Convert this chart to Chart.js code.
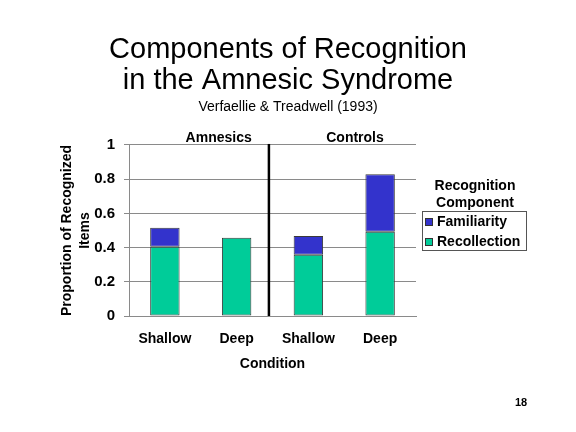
<!DOCTYPE html>
<html>
<head>
<meta charset="utf-8">
<title>Components of Recognition</title>
<script src="https://cdn.jsdelivr.net/npm/chart.js@4/dist/chart.umd.min.js"></script>
<style>
  html, body { margin: 0; padding: 0; background: #fff; }
  #wrap { width: 576px; height: 432px; }
</style>
</head>
<body>
<div id="wrap"><canvas id="chart" width="576" height="432"></canvas></div>
<script>
// values
const categories = ['Shallow', 'Deep', 'Shallow', 'Deep']
const groups = ['Amnesics', 'Controls']
const recollection = [0.405, 0.458, 0.358, 0.493]
const familiarity = [0.111, 0, 0.11, 0.336]
const yTicks = [0, 0.2, 0.4, 0.6, 0.8, 1]

const FONT = '"Liberation Sans", Arial, Helvetica, sans-serif'
const GREEN = '#00cc99'
const BLUE = '#3333cc'
const GRID = '#8a8a8a'

// group labels, divider, legend box and slide number
const slideExtras = {
    id: 'slideExtras',
    afterDatasetsDraw(chart) {
        const {ctx, chartArea, scales: {x}} = chart
        ctx.save()
        // divider between the two groups
        const divX = x.getPixelForValue(1.45)
        ctx.strokeStyle = '#000'
        ctx.lineWidth = 2.5
        ctx.beginPath()
        ctx.moveTo(divX, chartArea.top - 1)
        ctx.lineTo(divX, chartArea.bottom)
        ctx.stroke()

        ctx.fillStyle = '#000'
        ctx.font = 'bold 14px ' + FONT
        ctx.textAlign = 'center'
        ctx.textBaseline = 'middle'
        ctx.fillText(groups[0], x.getPixelForValue(0.75), chartArea.top - 7)
        ctx.fillText(groups[1], x.getPixelForValue(2.65), chartArea.top - 7)
        ctx.restore()
    },
    afterDraw(chart) {
        const {ctx} = chart
        ctx.save()
        ctx.fillStyle = '#000'
        ctx.textBaseline = 'middle'
        ctx.font = 'bold 14px ' + FONT
        ctx.textAlign = 'center'
        ctx.fillText('Recognition', 475, 186)
        ctx.fillText('Component', 475, 203)

        // legend box
        ctx.strokeStyle = '#555'
        ctx.lineWidth = 1
        ctx.strokeRect(422.5, 211.5, 104, 39)

        const items = chart.data.datasets.slice().reverse()
        items.forEach((ds, i) => {
            const y = 222 + i * 20
            ctx.fillStyle = ds.backgroundColor
            ctx.fillRect(425, y - 4, 8, 8)
            ctx.strokeStyle = '#333'
            ctx.strokeRect(425.5, y - 3.5, 7, 7)
            ctx.fillStyle = '#000'
            ctx.textAlign = 'left'
            ctx.fillText(ds.label, 437, y)
        })

        ctx.font = 'bold 11px ' + FONT
        ctx.textAlign = 'center'
        ctx.fillText('18', 521, 403)
        ctx.restore()
    }
}

const ctx = document.getElementById('chart').getContext('2d')
const chart = new Chart(ctx, {
    type: 'bar',
    data: {
        labels: categories,
        datasets: [
            {
                label: 'Recollection',
                data: recollection,
                backgroundColor: GREEN,
                borderColor: '#3a3a3a',
                borderWidth: 1,
                borderSkipped: false,
            },
            {
                label: 'Familiarity',
                data: familiarity,
                backgroundColor: BLUE,
                borderColor: '#3a3a3a',
                borderWidth: 1,
                borderSkipped: false,
            },
        ],
    },
    options: {
        responsive: false,
        animation: false,
        devicePixelRatio: 1,
        layout: {padding: {left: 0, right: 0, top: 0, bottom: 56}},
        datasets: {bar: {categoryPercentage: 1, barPercentage: 0.41}},
        plugins: {
            legend: {display: false},
            tooltip: {enabled: false},
            title: {
                display: true,
                text: ['Components of Recognition', 'in the Amnesic Syndrome'],
                color: '#000',
                font: {family: FONT, size: 29, weight: 'normal', lineHeight: 1.07},
                padding: {top: 34.5, bottom: 0},
            },
            subtitle: {
                display: true,
                text: 'Verfaellie & Treadwell (1993)',
                color: '#000',
                font: {family: FONT, size: 14, weight: 'normal', lineHeight: 1.2},
                padding: {top: 2, bottom: 29.6},
            },
        },
        scales: {
            x: {
                stacked: true,
                grid: {display: false, drawTicks: false},
                border: {display: true, color: GRID, width: 1},
                ticks: {color: '#000', padding: 15, font: {family: FONT, size: 14, weight: 'bold'}},
                title: {
                    display: true,
                    text: 'Condition',
                    color: '#000',
                    font: {family: FONT, size: 14, weight: 'bold', lineHeight: 1.2},
                    padding: {top: 0, bottom: 3},
                },
                afterFit: (scale) => { scale.height = 60 },
            },
            y: {
                stacked: true,
                min: 0,
                max: 1,
                afterBuildTicks: (scale) => { scale.ticks = yTicks.map(v => ({value: v})) },
                grid: {color: GRID, lineWidth: 1, tickLength: 5},
                border: {display: true, color: GRID, width: 1},
                ticks: {
                    color: '#000',
                    padding: 9,
                    font: {family: FONT, size: 15, weight: 'bold'},
                    callback: (v) => String(v),
                },
                title: {
                    display: true,
                    text: ['Proportion of Recognized', 'Items'],
                    color: '#000',
                    font: {family: FONT, size: 14, weight: 'bold', lineHeight: 1.33},
                    padding: {top: 57.5, bottom: 0},
                },
                afterFit: (scale) => { scale.width = 129 },
            },
            // empty axis that keeps room for the legend on the right
            legendRoom: {
                type: 'linear',
                position: 'right',
                grid: {drawOnChartArea: false, drawTicks: false},
                border: {display: false},
                ticks: {display: false},
                afterFit: (scale) => { scale.width = 160 },
            },
        },
    },
    plugins: [slideExtras],
})
</script>
</body>
</html>
